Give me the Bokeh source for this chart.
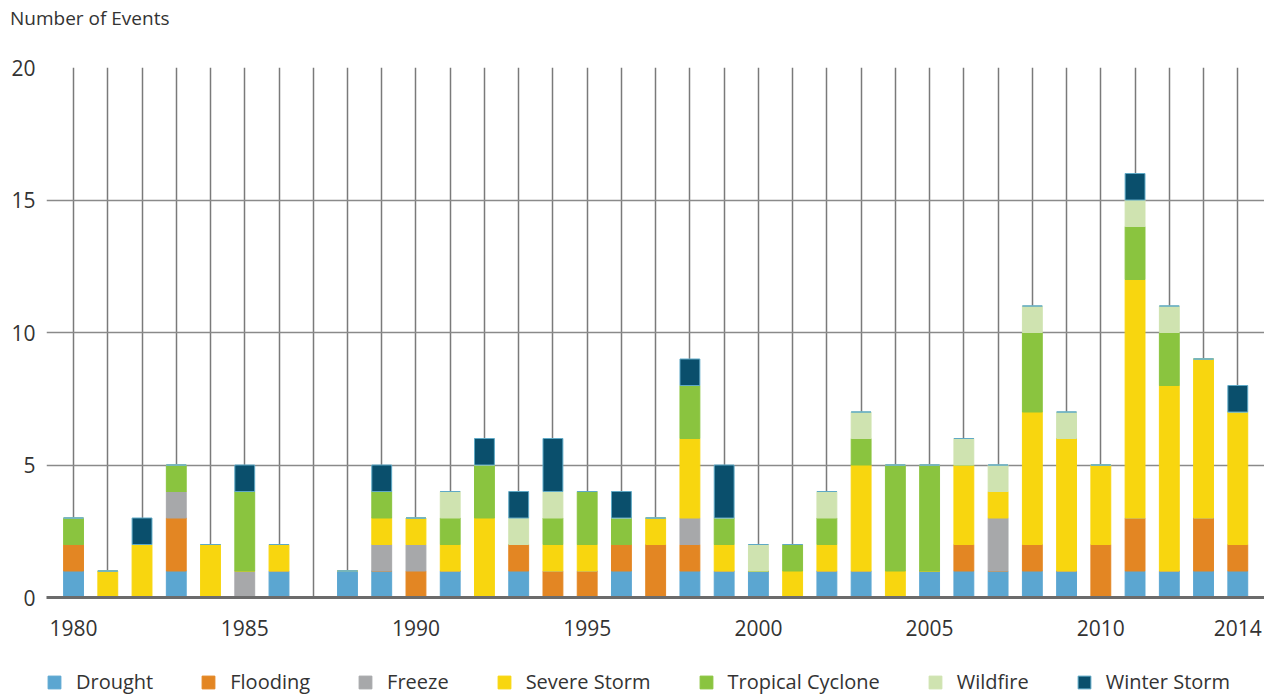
from bokeh.plotting import figure
from bokeh.layouts import column
from bokeh.models import ColumnDataSource, FixedTicker, Legend, LegendItem, Range1d, Div
from bokeh.embed import file_html
from bokeh.resources import INLINE

years = list(range(1980, 2015))
drought          = [1,0,0,1,0,0,1,0,1,1,0,1,0,1,0,0,1,0,1,1,1,0,1,1,0,1,1,1,1,1,0,1,1,1,1]
flooding         = [1,0,0,2,0,0,0,0,0,0,1,0,0,1,1,1,1,2,1,0,0,0,0,0,0,0,1,0,1,0,2,2,0,2,1]
freeze           = [0,0,0,1,0,1,0,0,0,1,1,0,0,0,0,0,0,0,1,0,0,0,0,0,0,0,0,2,0,0,0,0,0,0,0]
severe_storm     = [0,1,2,0,2,0,1,0,0,1,1,1,3,0,1,1,0,1,3,1,0,1,1,4,1,0,3,1,5,5,3,9,7,6,5]
tropical_cyclone = [1,0,0,1,0,3,0,0,0,1,0,1,2,0,1,2,1,0,2,1,0,1,1,1,4,4,0,0,3,0,0,2,2,0,0]
wildfire         = [0,0,0,0,0,0,0,0,0,0,0,1,0,1,1,0,0,0,0,0,1,0,1,1,0,0,1,1,1,1,0,1,1,0,0]
winter_storm     = [0,0,1,0,0,1,0,0,0,1,0,0,1,1,2,0,1,0,1,2,0,0,0,0,0,0,0,0,0,0,0,1,0,0,1]

categories = ["Drought", "Flooding", "Freeze", "Severe Storm",
              "Tropical Cyclone", "Wildfire", "Winter Storm"]
keys = ["drought", "flooding", "freeze", "severe_storm",
        "tropical_cyclone", "wildfire", "winter_storm"]
colors = ["#5BA6D1", "#E38623", "#A7A8AA", "#F8D60F", "#8AC43F", "#CFE3B0", "#0A4F6C"]
line_colors = ["#5BA6D1", "#E38623", "#A7A8AA", "#F8D60F", "#8AC43F", "#CFE3B0", "#5FA9C6"]

x_ticks = [1980, 1985, 1990, 1995, 2000, 2005, 2010, 2014]
y_ticks = [0, 5, 10, 15, 20]
y_title = "Number of Events"

source = ColumnDataSource(dict(
    year=years, drought=drought, flooding=flooding, freeze=freeze,
    severe_storm=severe_storm, tropical_cyclone=tropical_cyclone,
    wildfire=wildfire, winter_storm=winter_storm))

FONT = "Open Sans"
TXT = "#333333"

# title strip (plain HTML text, left of the plot frame)
top = Div(text=y_title, width=1250, height=36, margin=(0, 0, 0, 0),
          styles={"font-family": FONT, "font-size": "19px", "color": TXT,
                  "padding-left": "10px", "line-height": "36px",
                  "white-space": "nowrap"})

p = figure(width=1264, height=626, output_backend="svg", toolbar_location=None,
           x_range=Range1d(1979.21, 2014.78), y_range=Range1d(0, 20),
           min_border_left=46, min_border_right=0, min_border_top=31,
           min_border_bottom=65)
p.outline_line_color = None
p.background_fill_color = "white"
p.border_fill_color = "white"

rs = p.vbar_stack(keys, x="year", width=0.58, source=source,
                  fill_color=colors, line_color=line_colors, line_width=1)

# grids
p.xgrid.ticker = FixedTicker(ticks=years)
p.xgrid.grid_line_color = "#7a7a7a"
p.xgrid.grid_line_width = 1.5
p.ygrid.ticker = FixedTicker(ticks=y_ticks)
p.ygrid.grid_line_color = "#8a8a8a"
p.ygrid.grid_line_width = 1.5

# axes
p.xaxis.ticker = FixedTicker(ticks=x_ticks)
p.xaxis.axis_line_color = "#6b6b6b"
p.xaxis.axis_line_width = 3
p.xaxis.major_tick_line_color = None
p.xaxis.minor_tick_line_color = None
p.xaxis.major_label_standoff = 16
p.xaxis.major_label_text_font = FONT
p.xaxis.major_label_text_font_size = "21px"
p.xaxis.major_label_text_color = TXT

p.yaxis.ticker = FixedTicker(ticks=y_ticks)
p.yaxis.axis_line_color = None
p.yaxis.major_tick_line_color = None
p.yaxis.minor_tick_line_color = None
p.yaxis.major_label_standoff = 5
p.yaxis.major_label_text_font = FONT
p.yaxis.major_label_text_font_size = "21px"
p.yaxis.major_label_text_color = TXT

# legend strip
lg = figure(width=1264, height=34, output_backend="svg", toolbar_location=None,
            x_range=Range1d(0, 1), y_range=Range1d(0, 1),
            min_border_left=46, min_border_right=0, min_border_top=0,
            min_border_bottom=0, x_axis_location=None, y_axis_location=None)
lg.outline_line_color = None
lg.xgrid.visible = False
lg.ygrid.visible = False
dummy = []
for c, lc in zip(colors, line_colors):
    dummy.append(lg.rect(x=[-5], y=[-5], width=0.1, height=0.1,
                         fill_color=c, line_color=lc, line_width=1))

legend = Legend(items=[LegendItem(label=c, renderers=[r]) for c, r in zip(categories, dummy)],
                orientation="horizontal", location=(0, 1),
                glyph_width=16, glyph_height=16, label_standoff=14, spacing=47,
                padding=0, margin=0, border_line_color=None,
                background_fill_alpha=0,
                label_text_font=FONT, label_text_font_size="20px",
                label_text_color=TXT)
lg.add_layout(legend, "center")

layout = column(top, p, lg, spacing=0)
open("out.html", "w").write(file_html(layout, INLINE))
